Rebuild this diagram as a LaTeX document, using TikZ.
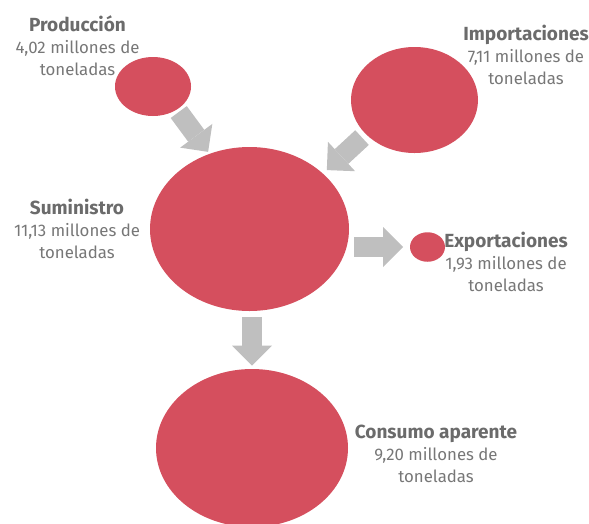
\documentclass[tikz,border=0pt]{standalone}
\usepackage{fontspec}
\setmainfont{Fira Sans}
\usetikzlibrary{shapes.geometric,arrows.meta}
\definecolor{bubble}{HTML}{D54F5E}
\definecolor{flow}{HTML}{BFBFBF}
\definecolor{titlegray}{HTML}{6B6B6B}
\definecolor{bodygray}{HTML}{777777}
\tikzset{
  bubble/.style={ellipse, fill=bubble, draw=none, inner sep=0pt},
  flowarrow/.style={draw=flow, line width=20pt,
    -{Triangle[length=20pt,width=40pt,line width=0pt,fill=flow]}},
  label/.style={align=center, anchor=base, inner sep=0pt, text=bodygray,
    font=\fontsize{16.8}{21.8}\selectfont},
}
\newcommand{\ttl}[1]{{\color{titlegray}\bfseries\fontsize{19}{21.8}\selectfont #1}}
\begin{document}
\begin{tikzpicture}[x=1pt,y=-1pt]
\useasboundingbox (0,0) rectangle (589,523);
\clip (0,0) rectangle (589,523);
% bubbles
\node[bubble, minimum width=76pt, minimum height=59pt] (prod) at (153,86.5) {};
\node[bubble, minimum width=127pt, minimum height=106pt] (imp) at (414.5,100) {};
\node[bubble, minimum width=199pt, minimum height=164pt] (sum) at (249.5,229) {};
\node[bubble, minimum width=35pt, minimum height=29.5pt] (exp) at (427.5,247) {};
\node[bubble, minimum width=192pt, minimum height=158pt] (cons) at (252,448) {};
% arrows
\draw[flowarrow, shorten <=3pt, shorten >=2.3pt] (prod.-44) -- (sum.118);
\draw[flowarrow, shorten <=5pt, shorten >=5.1pt] (imp.-145.5) -- (sum.37.9);
\draw[flowarrow, shorten <=5pt, shorten >=6.7pt] (sum.east |- exp.west) -- (exp.west);
\draw[flowarrow, shorten <=6pt, shorten >=3.3pt] (sum.south -| cons.north) -- (cons.north);
% labels (anchored at the baseline of the last line)
\node[label] (prodlab) at (77.5,75) {\ttl{Producción}\\4,02 millones de\\toneladas};
\node[label] (implab) at (526,84) {\ttl{Importaciones}\\7,11 millones de\\toneladas};
\node[label] (sumlab) at (77,258) {\ttl{Suministro}\\11,13 millones de\\toneladas};
\node[label] (explab) at (506,291) {\ttl{Exportaciones}\\1,93 millones de\\toneladas};
\node[label] (conslab) at (436,482) {\ttl{Consumo aparente}\\9,20 millones de\\toneladas};
\end{tikzpicture}
\end{document}
